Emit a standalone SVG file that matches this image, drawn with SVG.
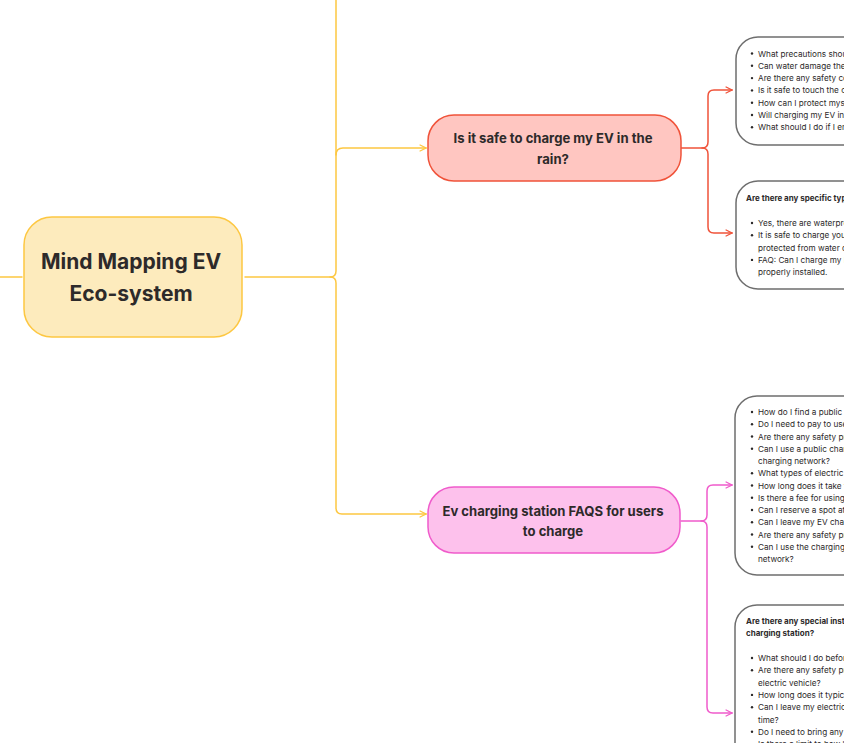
<svg xmlns="http://www.w3.org/2000/svg" width="844" height="743" viewBox="0 0 844 743">
<defs>
<style>
.t{font-family:Inter,"Liberation Sans",sans-serif;fill:#2d2a2a}
.big{font-size:21px;font-weight:700}
.mid{font-size:13.1px;font-weight:700}
.sm{font-size:8.2px}
.smb{font-size:8px;font-weight:700}
.box{fill:#ffffff;stroke:#6e6e6e;stroke-width:1.5}
.ln{fill:none;stroke-width:1.5;stroke-linecap:round;stroke-linejoin:round}
.y{stroke:#fdc741}
.r{stroke:#f0533a}
.p{stroke:#f05bcb}
</style>
<marker id="ay" viewBox="0 0 10 10" refX="9" refY="5" markerWidth="8" markerHeight="8" markerUnits="userSpaceOnUse" orient="auto"><path d="M1 1 L9 5 L1 9" fill="none" stroke="#fdc741" stroke-width="1.5"/></marker>
<marker id="ar" viewBox="0 0 10 10" refX="9" refY="5" markerWidth="8" markerHeight="8" markerUnits="userSpaceOnUse" orient="auto"><path d="M1 1 L9 5 L1 9" fill="none" stroke="#f0533a" stroke-width="1.5"/></marker>
<marker id="ap" viewBox="0 0 10 10" refX="9" refY="5" markerWidth="8" markerHeight="8" markerUnits="userSpaceOnUse" orient="auto"><path d="M1 1 L9 5 L1 9" fill="none" stroke="#f05bcb" stroke-width="1.5"/></marker>
</defs>
<rect width="844" height="743" fill="#ffffff"/>
<g id="connectors">
<path class="ln y" d="M0 277 H22"/>
<path class="ln y" d="M245 277 H330 Q336 277 336 271 V0"/>
<path class="ln y" d="M330 277 Q336 277 336 283 V508 Q336 514 342 514 H426" marker-end="url(#ay)"/>
<path class="ln y" d="M336 155 Q336 148 343 148 H426" marker-end="url(#ay)"/>
<path class="ln r" d="M681 148 H702 Q708 148 708 142 V96 Q708 90 714 90 H732" marker-end="url(#ar)"/>
<path class="ln r" d="M702 148 Q708 148 708 154 V227 Q708 233 714 233 H732" marker-end="url(#ar)"/>
<path class="ln p" d="M681 521 H701 Q707 521 707 515 V491 Q707 485 713 485 H732" marker-end="url(#ap)"/>
<path class="ln p" d="M701 521 Q707 521 707 527 V707 Q707 713 713 713 H732" marker-end="url(#ap)"/>
</g>
<g id="central">
<rect x="24" y="217" width="218" height="120" rx="28" fill="#fdebbd" stroke="#fdc741" stroke-width="1.5"/>
<text class="t big" x="131" y="269" text-anchor="middle">Mind Mapping EV</text>
<text class="t big" x="131" y="301" text-anchor="middle">Eco-system</text>
</g>
<g id="rain">
<rect x="428" y="115" width="253" height="66" rx="26" fill="#ffc6c1" stroke="#f0533a" stroke-width="1.5"/>
<text class="t mid" x="553" y="143" text-anchor="middle">Is it safe to charge my EV in the</text>
<text class="t mid" x="553" y="163.5" text-anchor="middle">rain?</text>
</g>
<g id="faqs">
<rect x="428" y="487" width="252" height="66" rx="26" fill="#fdc1ec" stroke="#f05bcb" stroke-width="1.5"/>
<text class="t mid" x="553" y="515.5" text-anchor="middle">Ev charging station FAQS for users</text>
<text class="t mid" x="553" y="536" text-anchor="middle">to charge</text>
</g>
<g id="rain-questions">
<rect class="box" x="736" y="37" width="260" height="108" rx="22"/>
<g class="t sm">
<circle cx="752" cy="53.5" r="1.2"/><text x="758" y="56.5">What precautions should I take when charging my EV in the rain?</text>
<circle cx="752" cy="65.8" r="1.2"/><text x="758" y="68.8">Can water damage the charging port or cable?</text>
<circle cx="752" cy="78.1" r="1.2"/><text x="758" y="81.1">Are there any safety concerns with charging in wet conditions?</text>
<circle cx="752" cy="90.4" r="1.2"/><text x="758" y="93.4">Is it safe to touch the charger when it is raining?</text>
<circle cx="752" cy="102.7" r="1.2"/><text x="758" y="105.7">How can I protect myself from electric shock?</text>
<circle cx="752" cy="115" r="1.2"/><text x="758" y="118">Will charging my EV in the rain affect the battery?</text>
<circle cx="752" cy="127.3" r="1.2"/><text x="758" y="130.3">What should I do if I encounter a problem while charging?</text>
</g>
</g>
<g id="rain-chargers">
<rect class="box" x="736" y="181" width="260" height="108" rx="22"/>
<text class="t smb" x="746" y="201">Are there any specific types of chargers for rainy conditions?</text>
<g class="t sm">
<circle cx="752" cy="223" r="1.2"/><text x="758" y="226">Yes, there are waterproof chargers designed for outdoor use.</text>
<circle cx="752" cy="235.3" r="1.2"/><text x="758" y="238.3">It is safe to charge your EV in the rain as long as the equipment is</text>
<text x="758" y="250.6">protected from water damage.</text>
<circle cx="752" cy="259.9" r="1.2"/><text x="758" y="262.9">FAQ: Can I charge my EV in the rain? Yes, if the charger is</text>
<text x="758" y="275.2">properly installed.</text>
</g>
</g>
<g id="station-questions">
<rect class="box" x="735" y="396" width="260" height="179" rx="22"/>
<g class="t sm">
<circle cx="752" cy="412" r="1.2"/><text x="758" y="415">How do I find a public EV charging station?</text>
<circle cx="752" cy="424.25" r="1.2"/><text x="758" y="427.25">Do I need to pay to use a public charging station?</text>
<circle cx="752" cy="436.5" r="1.2"/><text x="758" y="439.5">Are there any safety precautions I should take?</text>
<circle cx="752" cy="448.75" r="1.2"/><text x="758" y="451.75">Can I use a public charging station if I am not a member of the</text>
<text x="758" y="464">charging network?</text>
<circle cx="752" cy="473.25" r="1.2"/><text x="758" y="476.25">What types of electric vehicles can use the station?</text>
<circle cx="752" cy="485.5" r="1.2"/><text x="758" y="488.5">How long does it take to charge my EV?</text>
<circle cx="752" cy="497.75" r="1.2"/><text x="758" y="500.75">Is there a fee for using the charging station?</text>
<circle cx="752" cy="510" r="1.2"/><text x="758" y="513">Can I reserve a spot at the charging station?</text>
<circle cx="752" cy="522.25" r="1.2"/><text x="758" y="525.25">Can I leave my EV charging unattended?</text>
<circle cx="752" cy="534.5" r="1.2"/><text x="758" y="537.5">Are there any safety precautions for charging at night?</text>
<circle cx="752" cy="546.75" r="1.2"/><text x="758" y="549.75">Can I use the charging station if I'm not a member of the charging</text>
<text x="758" y="562">network?</text>
</g>
</g>
<g id="station-instructions">
<rect class="box" x="735" y="605" width="260" height="216" rx="22"/>
<text class="t smb" x="746" y="624">Are there any special instructions for using the</text>
<text class="t smb" x="746" y="636.3">charging station?</text>
<g class="t sm">
<circle cx="752" cy="658" r="1.2"/><text x="758" y="661">What should I do before I start charging?</text>
<circle cx="752" cy="670.3" r="1.2"/><text x="758" y="673.3">Are there any safety precautions I should take when charging my</text>
<text x="758" y="685.6">electric vehicle?</text>
<circle cx="752" cy="694.9" r="1.2"/><text x="758" y="697.9">How long does it typically take to charge?</text>
<circle cx="752" cy="707.2" r="1.2"/><text x="758" y="710.2">Can I leave my electric vehicle at the station for a long period of</text>
<text x="758" y="722.5">time?</text>
<circle cx="752" cy="731.8" r="1.2"/><text x="758" y="734.8">Do I need to bring any special equipment?</text>
<circle cx="752" cy="744.1" r="1.2"/><text x="758" y="747.1">Is there a limit to how long I can charge?</text>
</g>
</g>
</svg>
